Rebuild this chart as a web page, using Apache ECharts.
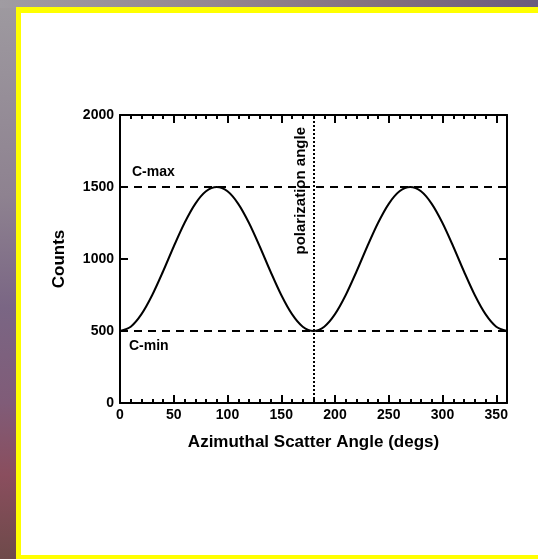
<!DOCTYPE html>
<html>
<head>
<meta charset="utf-8">
<script src="https://cdn.jsdelivr.net/npm/echarts@6/dist/echarts.min.js"></script>
<style>
html,body{margin:0;padding:0;width:538px;height:559px;overflow:hidden;}
#chart{width:538px;height:559px;}
</style>
</head>
<body>
<div id="chart"></div>
<script>
// Azimuthal scatter angle (degrees)
const angles = [0,10,20,30,40,50,60,70,80,90,100,110,120,130,140,150,160,170,180,
                190,200,210,220,230,240,250,260,270,280,290,300,310,320,330,340,350,360];
// Counts
const counts = [500,530,617,750,913,1087,1250,1383,1470,1500,1470,1383,1250,1087,913,750,617,530,500,
                530,617,750,913,1087,1250,1383,1470,1500,1470,1383,1250,1087,913,750,617,530,500];
const cMax = 1500;
const cMin = 500;
const polarizationAngle = 180;
const xTicksMajor = 50;
const xTicksMinor = 10;
const yTicks = 500;

const chart = echarts.init(document.getElementById('chart'), null, {renderer: 'canvas'});
const FONT = '"Liberation Sans", Arial, sans-serif';
const black = '#000';

function xAxisDef(pos, interval, tickLen, showLine, showLabel, extra) {
  return Object.assign({
    type: 'value', position: pos, min: 0, max: 360, interval: interval,
    axisLine: {show: showLine, onZero: false, lineStyle: {color: black, width: 2}},
    axisTick: {show: true, inside: true, length: tickLen, lineStyle: {color: black, width: 2}},
    axisLabel: {show: showLabel, color: black, fontFamily: FONT, fontWeight: 'bold', fontSize: 14, margin: 5,
                showMaxLabel: false, formatter: v => String(v)},
    splitLine: {show: false}
  }, extra || {});
}
function yAxisDef(pos, showLabel, extra) {
  return Object.assign({
    type: 'value', position: pos, min: 0, max: 2000, interval: yTicks,
    axisLine: {show: true, onZero: false, lineStyle: {color: black, width: 2}},
    axisTick: {show: true, inside: true, length: 8, lineStyle: {color: black, width: 2}},
    axisLabel: {show: showLabel, color: black, fontFamily: FONT, fontWeight: 'bold', fontSize: 14, margin: 6,
                formatter: v => String(v)},
    splitLine: {show: false}
  }, extra || {});
}

const option = {
  animation: false,
  backgroundColor: {
    type: 'linear', x: 0, y: 0, x2: 0, y2: 1,
    colorStops: [
      {offset: 0, color: '#9e9aa0'},
      {offset: 0.35, color: '#8e8290'},
      {offset: 0.55, color: '#7a6684'},
      {offset: 0.72, color: '#805c78'},
      {offset: 0.85, color: '#8a4e5e'},
      {offset: 1, color: '#6e4a4a'}
    ]
  },
  graphic: [
    {type: 'rect', z: -10, silent: true, shape: {x: 0, y: 0, width: 538, height: 8},
     style: {fill: {type: 'linear', x: 0, y: 0, x2: 1, y2: 0, colorStops: [
       {offset: 0, color: '#a09ca2'}, {offset: 0.4, color: '#948690'}, {offset: 0.7, color: '#84707f'}, {offset: 1, color: '#6b5b7e'}]}}},
    {type: 'rect', z: -9, silent: true, shape: {x: 16, y: 7, width: 522, height: 552}, style: {fill: '#ffff00'}},
    {type: 'rect', z: -8, silent: true, shape: {x: 21, y: 13, width: 517, height: 542}, style: {fill: '#ffffff'}}
  ],
  grid: {left: 120, right: 31, top: 115, bottom: 156, containLabel: false},
  xAxis: [
    xAxisDef('bottom', xTicksMajor, 8, true, true, {
      name: 'Azimuthal Scatter Angle (degs)', nameLocation: 'middle', nameGap: 31,
      nameTextStyle: {color: black, fontFamily: FONT, fontWeight: 'bold', fontSize: 17}
    }),
    xAxisDef('bottom', xTicksMinor, 4, false, false),
    xAxisDef('top', xTicksMajor, 8, true, false),
    xAxisDef('top', xTicksMinor, 4, false, false)
  ],
  yAxis: [
    yAxisDef('left', true, {
      name: 'Counts', nameLocation: 'middle', nameGap: 52, nameRotate: 90,
      nameTextStyle: {color: black, fontFamily: FONT, fontWeight: 'bold', fontSize: 17}
    }),
    yAxisDef('right', false)
  ],
  series: [{
    type: 'line',
    xAxisIndex: 0, yAxisIndex: 0,
    data: angles.map((a, i) => [a, counts[i]]),
    smooth: 0.3,
    showSymbol: false, symbol: 'none',
    lineStyle: {color: black, width: 2},
    itemStyle: {color: black},
    markLine: {
      silent: true, symbol: ['none', 'none'], animation: false,
      data: [
        {yAxis: cMax, lineStyle: {type: [8, 6], color: black, width: 2},
         label: {show: true, position: 'insideStartTop', formatter: 'C-max', distance: [12, 8],
                 color: black, fontFamily: FONT, fontWeight: 'bold', fontSize: 14}},
        {yAxis: cMin, lineStyle: {type: [8, 6], color: black, width: 2},
         label: {show: true, position: 'insideStartBottom', formatter: 'C-min', distance: [9, 8],
                 color: black, fontFamily: FONT, fontWeight: 'bold', fontSize: 14}},
        {xAxis: polarizationAngle, lineStyle: {type: [2, 2], color: black, width: 2},
         label: {show: true, position: 'insideEndTop', formatter: 'polarization angle', distance: [12, 5],
                 color: black, fontFamily: FONT, fontWeight: 'bold', fontSize: 15}}
      ]
    }
  }]
};
chart.setOption(option);
</script>
</body>
</html>
